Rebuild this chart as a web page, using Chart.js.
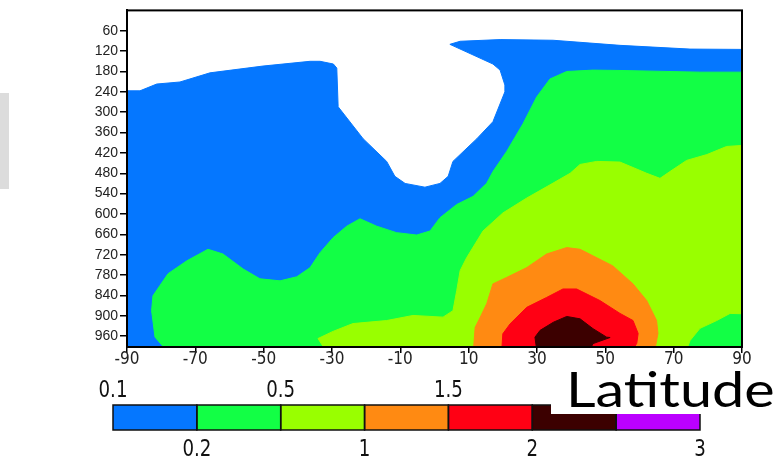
<!DOCTYPE html>
<html><head><meta charset="utf-8">
<script src="https://cdn.jsdelivr.net/npm/chart.js@4.4.1/dist/chart.umd.min.js"></script>
<style>html,body{margin:0;padding:0;background:#fff;} canvas{display:block;}</style>
</head><body>
<canvas id="c" width="782" height="459"></canvas>
<script>
// Axis ticks
const latTicks = [-90, -70, -50, -30, -10, 10, 30, 50, 70, 90];
const pressureTicks = [60, 120, 180, 240, 300, 360, 420, 480, 540, 600, 660, 720, 780, 840, 900, 960];

// Contour levels and colours (colour i fills values between levels[i] and levels[i+1])
const levels = [0.1, 0.2, 0.5, 1, 1.5, 2, 2.5, 3];
const levelLabels = ['0.1', '0.2', '0.5', '1', '1.5', '2', '', '3'];
const levelColors = ['#0577FF', '#12FF45', '#99FF00', '#FF8A12', '#FF0014', '#3C0000', '#BB00FF'];

// Contour outlines (latitude, pressure) for each level region (value >= level)
const lvl01Lat  = [-90, -86.2, -81.3, -74.5, -65.7, -50.2, -36.4, -33.5, -29.6, -28.6, -28.2, -20.9, -14.0, -11.6, -8.6, -2.8, 1.6, 4.0, 5.4, 12.4, 17.1, 20.6, 20.6, 19.2, 17.1, 4.5, 7.5, 19.2, 34.7, 54.3, 74.8, 90, 90, -90];
const lvl01Pres = [237, 237, 217, 211, 184, 164, 150, 150, 158, 170, 284, 378, 445, 489, 510, 521, 510, 489, 445, 378, 328, 240, 220, 176, 158, 100, 91, 86, 88, 103, 114, 115, 1000, 1000];

const lvl02Lat  = [-78.6, -81.8, -82.8, -82.4, -78.0, -72.5, -66.3, -61.9, -56.0, -51.1, -45.2, -40.3, -36.4, -33.5, -29.7, -25.7, -21.8, -16.9, -11.1, -5.2, -1.3, 1.6, 6.5, 11.3, 15.3, 17.1, 21.1, 25.9, 29.9, 33.8, 38.7, 46.4, 54.3, 77.7, 90, 90];
const lvl02Pres = [1000, 963, 885, 841, 776, 738, 704, 718, 762, 791, 797, 785, 758, 714, 670, 636, 614, 636, 655, 662, 650, 611, 572, 548, 509, 475, 416, 334, 255, 202, 180, 176, 177, 182, 182, 1000];

const lvl05Lat  = [-32.0, -34.1, -29.7, -23.9, -14.0, -6.3, 2.5, 5.4, 6.5, 7.5, 9.4, 14.2, 20.0, 27.0, 34.7, 39.7, 42.6, 47.5, 54.3, 58.1, 62.1, 66.0, 68.9, 73.8, 79.7, 85.5, 90, 90, 86.5, 82.6, 77.7, 74.8, 73.8];
const lvl05Pres = [1000, 967, 946, 923, 914, 899, 904, 885, 826, 767, 729, 650, 597, 553, 509, 480, 454, 445, 447, 463, 480, 495, 475, 442, 425, 401, 398, 894, 893, 914, 937, 973, 1000];

const lvl1Lat  = [11.4, 11.9, 13.4, 15.3, 17.1, 21.1, 27.0, 32.8, 38.7, 42.6, 47.5, 52.2, 58.1, 62.1, 65.0, 65.4, 64.5];
const lvl1Pres = [1000, 934, 904, 864, 806, 787, 758, 718, 699, 704, 729, 753, 806, 855, 914, 952, 1000];

const lvl15Lat  = [19.7, 20.0, 22.1, 27.0, 32.8, 37.6, 41.6, 48.4, 54.3, 58.1, 59.6, 59.2, 58.1];
const lvl15Pres = [1000, 953, 924, 875, 846, 821, 821, 855, 893, 914, 952, 981, 1000];

const lvl2Lat  = [29.9, 29.4, 30.9, 34.8, 38.7, 42.6, 46.4, 50.4, 51.4, 46.4, 45.5];
const lvl2Pres = [1000, 963, 943, 919, 902, 909, 938, 963, 964, 982, 1000];

const xTitle = 'Latitude';

const polys = [[lvl01Lat, lvl01Pres], [lvl02Lat, lvl02Pres], [lvl05Lat, lvl05Pres], [lvl1Lat, lvl1Pres], [lvl15Lat, lvl15Pres], [lvl2Lat, lvl2Pres]];

const datasets = polys.map(([la, pr], i) => ({
  label: String(levels[i]),
  data: la.map((x, k) => ({ x: x, y: pr[k] })),
  showLine: true,
  fill: 'shape',
  backgroundColor: levelColors[i],
  borderColor: levelColors[i],
  borderWidth: 1,
  pointRadius: 0,
  pointHoverRadius: 0,
  tension: 0,
  order: 10 - i
}));

const extras = {
  id: 'extras',
  beforeDraw(chart) {
    const ctx = chart.ctx;
    ctx.save();
    ctx.fillStyle = '#ffffff';
    ctx.fillRect(0, 0, chart.width, chart.height);
    ctx.fillStyle = '#dcdcdc';
    ctx.fillRect(0, 93, 9, 96);
    ctx.restore();
  },
  afterDraw(chart) {
    const ctx = chart.ctx;
    const a = chart.chartArea;
    ctx.save();
    // plot frame
    ctx.strokeStyle = '#000';
    ctx.lineWidth = 2;
    ctx.strokeRect(a.left, a.top, a.right - a.left, a.bottom - a.top);

    // colour bar
    const x0 = 113, x1 = 700, y0 = 405, h = 25;
    const n = levelColors.length;
    const w = (x1 - x0) / n;
    for (let i = 0; i < n; i++) {
      ctx.fillStyle = levelColors[i];
      ctx.fillRect(x0 + i * w, y0, w, h);
    }
    ctx.lineWidth = 1.5;
    ctx.strokeStyle = '#111';
    for (let i = 0; i < n; i++) ctx.strokeRect(x0 + i * w, y0, w, h);

    ctx.fillStyle = '#111';
    ctx.textAlign = 'center';
    ctx.textBaseline = 'alphabetic';
    ctx.font = '23px "Liberation Sans Narrow", "DejaVu Sans Condensed", sans-serif';
    levels.forEach((lv, i) => {
      const lab = levelLabels[i];
      if (!lab) return;
      const x = x0 + i * w;
      const y = (i % 2 === 0) ? 397 : 456;
      ctx.save();
      ctx.translate(x, y);
      ctx.scale(0.88, 1);
      ctx.fillText(lab, 0, 0);
      ctx.restore();
    });

    // axis title box
    ctx.fillStyle = '#fff';
    ctx.fillRect(551, 365, 231, 49);
    ctx.fillStyle = '#000';
    ctx.textAlign = 'left';
    ctx.font = '400 48px Lato, "Open Sans", sans-serif';
    ctx.translate(566, 407);
    ctx.scale(1.2, 1);
    ctx.fillText(xTitle, 0, 0);
    ctx.restore();
  }
};

new Chart(document.getElementById('c'), {
  type: 'scatter',
  data: { datasets: datasets },
  options: {
    responsive: false,
    devicePixelRatio: 1,
    animation: false,
    events: [],
    layout: { padding: { top: 8, right: 40, left: 0, bottom: 0 } },
    plugins: { legend: { display: false }, tooltip: { enabled: false } },
    scales: {
      x: {
        type: 'linear', min: -90, max: 90,
        afterBuildTicks: s => { s.ticks = latTicks.map(v => ({ value: v })); },
        afterFit: s => { s.height = 112; },
        ticks: { color: '#222', font: { family: '"Liberation Sans Narrow", "DejaVu Sans Condensed", sans-serif', size: 17 }, padding: -4, maxRotation: 0, autoSkip: false },
        grid: { drawOnChartArea: false, tickLength: 6, color: '#000', lineWidth: 1.5 },
        border: { display: true, color: '#000', width: 2 }
      },
      y: {
        type: 'linear', reverse: true, min: 0, max: 992,
        afterBuildTicks: s => { s.ticks = pressureTicks.map(v => ({ value: v })); },
        afterFit: s => { s.width = 127; },
        ticks: { color: '#222', font: { family: '"Liberation Sans", Arial, sans-serif', size: 14 }, padding: 2, autoSkip: false },
        grid: { drawOnChartArea: false, tickLength: 7, color: '#000', lineWidth: 1.5 },
        border: { display: true, color: '#000', width: 2 }
      }
    }
  },
  plugins: [extras]
});
</script>
</body></html>
